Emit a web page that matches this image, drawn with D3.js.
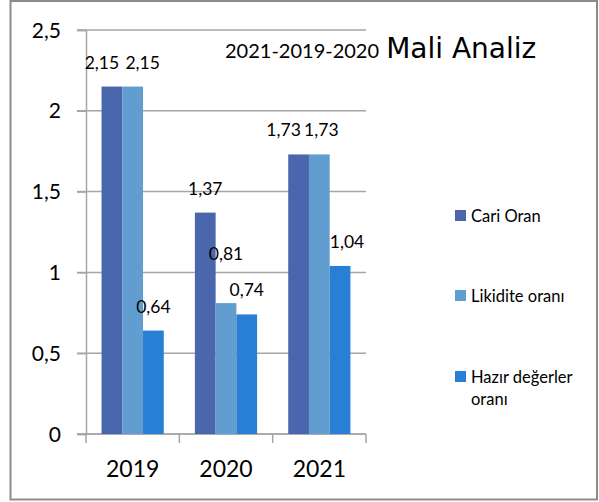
<!DOCTYPE html>
<html>
<head>
<meta charset="utf-8">
<script src="https://cdn.jsdelivr.net/npm/d3@7"></script>
<style>
  html, body { margin: 0; padding: 0; background: #fff; }
  svg { display: block; }
  text { font-family: Lato, "Open Sans", sans-serif; fill: #000; }
</style>
</head>
<body>
<svg id="chart" width="599" height="502"></svg>
<script>
// ---- data ----
const categories = ["2019", "2020", "2021"];
const seriesNames = ["Cari Oran", "Likidite oranı", "Hazır değerler oranı"];
const cariOran = [2.15, 1.37, 1.73];
const likiditeOrani = [2.15, 0.81, 1.73];
const hazirDegerlerOrani = [0.64, 0.74, 1.04];
const yTicks = [0, 0.5, 1, 1.5, 2, 2.5];
const titleYears = "2021-2019-2020";
const titleMain = "Mali Analiz";

// ---- style ----
const colors = ["#4A66AC", "#629DD1", "#297FD5"];
const seriesValues = [cariOran, likiditeOrani, hazirDegerlerOrani];
// label placement tweaks (avoid overlaps, like the original)
const labelNudge = {
  "0|0": [-10, 0], "0|1": [10, 0],
  "2|0": [-15, 0], "2|1": [2, 0],
  "1|1": [0, -25],
  "2|2": [7, 0]
};

const svg = d3.select("#chart");
const fmt = v => String(v).replace(".", ",");

// outer border
svg.append("rect").attr("x", 10.5).attr("y", 1).attr("width", 586.5).attr("height", 498.5)
  .attr("fill", "none").attr("stroke", "#8c8c8c").attr("stroke-width", 2);

const x = d3.scaleBand().domain(categories).range([86, 366]).paddingInner(0).paddingOuter(0);
const x1 = d3.scaleBand().domain(d3.range(seriesNames.length)).range([0, x.bandwidth()])
  .paddingInner(0).paddingOuter(0.75);
const y = d3.scaleLinear().domain([0, 2.5]).range([434, 30]);

// gridlines
svg.append("g").selectAll("line").data(yTicks).join("line")
  .attr("x1", 77).attr("x2", 366)
  .attr("y1", d => y(d)).attr("y2", d => y(d))
  .attr("stroke", "#a6a6a6").attr("stroke-width", 1.5);

// y axis
const yAxis = d3.axisLeft(y).tickValues(yTicks).tickFormat(fmt).tickSize(9).tickPadding(16);
const gy = svg.append("g").attr("transform", "translate(86,0)").call(yAxis);
gy.select(".domain").attr("stroke", "#a6a6a6").attr("stroke-width", 1.5);
gy.selectAll(".tick line").attr("stroke", "#a6a6a6").attr("stroke-width", 1.5);
gy.selectAll(".tick text").attr("font-size", 21).attr("font-family", "Lato, sans-serif").attr("fill", "#000")
  .attr("dy", "0.34em");

// x axis
const xAxis = d3.axisBottom(x).tickSize(0).tickPadding(0);
const gx = svg.append("g").attr("transform", "translate(0,434)").call(xAxis);
gx.select(".domain").remove();
gx.selectAll(".tick text").attr("font-size", 23).attr("font-family", "Lato, sans-serif")
  .attr("fill", "#000").attr("dy", 0).attr("y", 43);
// category boundary ticks
const bounds = categories.map(c => x(c)).concat([x(categories[categories.length - 1]) + x.bandwidth()]);
svg.append("line").attr("x1", 78).attr("x2", 366).attr("y1", 434).attr("y2", 434)
  .attr("stroke", "#a6a6a6").attr("stroke-width", 1.5);
svg.append("g").selectAll("line").data(bounds).join("line")
  .attr("x1", d => d).attr("x2", d => d).attr("y1", 434).attr("y2", 443)
  .attr("stroke", "#a6a6a6").attr("stroke-width", 1.5);

// bars
const barData = [];
seriesValues.forEach((vals, s) => vals.forEach((v, i) => barData.push({ s, i, v })));
svg.append("g").selectAll("rect").data(barData).join("rect")
  .attr("x", d => x(categories[d.i]) + x1(d.s))
  .attr("width", x1.bandwidth())
  .attr("y", d => y(d.v))
  .attr("height", d => y(0) - y(d.v))
  .attr("fill", d => colors[d.s]);

// data labels
svg.append("g").selectAll("text").data(barData).join("text")
  .attr("x", d => x(categories[d.i]) + x1(d.s) + x1.bandwidth() / 2 + ((labelNudge[d.i + "|" + d.s] || [0, 0])[0]))
  .attr("y", d => y(d.v) - 18 + ((labelNudge[d.i + "|" + d.s] || [0, 0])[1]))
  .attr("text-anchor", "middle")
  .attr("font-size", 17.5)
  .text(d => fmt(d.v));

// title
const title = svg.append("text").attr("x", 225).attr("y", 58);
title.append("tspan").attr("font-size", 20).text(titleYears + " ");
title.append("tspan").attr("font-size", 28).attr("font-family", "'DejaVu Sans', sans-serif")
  .attr("dx", 2).text(titleMain);

// legend
const legendRows = [
  { name: seriesNames[0], lines: ["Cari Oran"], y: 222 },
  { name: seriesNames[1], lines: ["Likidite oranı"], y: 302 },
  { name: seriesNames[2], lines: ["Hazır değerler", "oranı"], y: 383 }
];
const lg = svg.append("g");
legendRows.forEach((r, k) => {
  lg.append("rect").attr("x", 455).attr("y", r.y - 12).attr("width", 11).attr("height", 11)
    .attr("fill", colors[k]);
  const t = lg.append("text").attr("x", 471).attr("y", r.y).attr("font-size", 16.5);
  r.lines.forEach((ln, j) => t.append("tspan").attr("x", 471).attr("dy", j === 0 ? 0 : 22).text(ln));
});
</script>
</body>
</html>
